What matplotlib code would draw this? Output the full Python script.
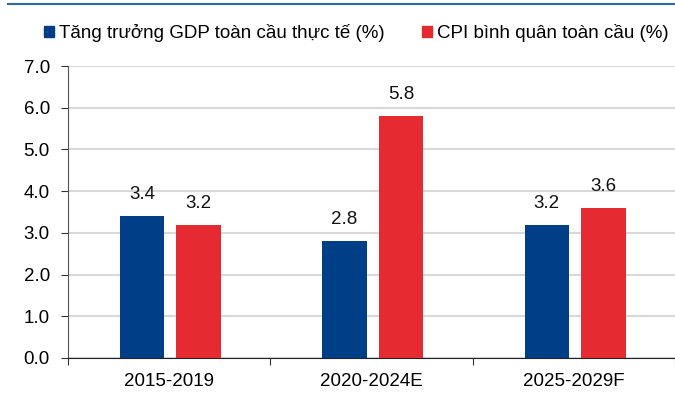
import numpy as np
import matplotlib
matplotlib.use('Agg')
import matplotlib.pyplot as plt
from matplotlib.lines import Line2D
from matplotlib.patches import Patch

plt.rcParams['font.family'] = ['Liberation Sans', 'DejaVu Sans']

# Data
categories = ['2015-2019', '2020-2024E', '2025-2029F']
gdp = [3.4, 2.8, 3.2]
cpi = [3.2, 5.8, 3.6]
gdp_labels = ['3.4', '2.8', '3.2']
cpi_labels = ['3.2', '5.8', '3.6']
series_names = ['Tăng trưởng GDP toàn cầu thực tế (%)', 'CPI bình quân toàn cầu (%)']

blue = '#003F87'
red = '#E62A32'
fs = 13.5

fig = plt.figure(figsize=(6.75, 4.07), dpi=100)
ax = fig.add_axes([0.1007, 0.1204, 0.9, 0.7174])

x = np.arange(len(categories))
w = 0.22
ax.bar(x - 0.135, gdp, w, color=blue, zorder=3)
ax.bar(x + 0.145, cpi, w, color=red, zorder=3)

for xi, v, s in zip(x - 0.135, gdp, gdp_labels):
    ax.annotate(s, (xi, v), xytext=(0, 12.2), textcoords='offset points',
                ha='center', va='baseline', fontsize=fs, color='#111111', zorder=4)
for xi, v, s in zip(x + 0.145, cpi, cpi_labels):
    ax.annotate(s, (xi, v), xytext=(0, 12.2), textcoords='offset points',
                ha='center', va='baseline', fontsize=fs, color='#111111', zorder=4)

ax.set_ylim(0, 7)
ax.set_xlim(-0.5, 2.5)
ax.set_yticks(np.arange(0, 7.5, 1))
ax.set_yticklabels(['{:.1f}'.format(v) for v in np.arange(0, 7.5, 1)], fontsize=fs)
ax.yaxis.grid(True, color='#d9d9d9', linewidth=1.5, zorder=0)

# category labels centered, ticks at boundaries
ax.set_xticks([-0.5, 0.5, 1.5, 2.5])
ax.set_xticklabels([])
ax.set_xticks(x, minor=True)
ax.set_xticklabels(categories, minor=True, fontsize=fs)
ax.tick_params(axis='x', which='minor', length=0, pad=11)
ax.tick_params(axis='x', which='major', length=5, color='#333333')
ax.tick_params(axis='y', length=5, color='#333333', pad=8)

for s in ['top', 'right']:
    ax.spines[s].set_visible(False)
ax.spines['left'].set_color('#555555')
ax.spines['bottom'].set_color('#222222')

# legend
handles = [Patch(color=blue), Patch(color=red)]
fig.legend(handles, series_names, loc='center left', bbox_to_anchor=(0.04, 0.918),
           ncol=2, frameon=False, fontsize=fs, handlelength=0.55, handleheight=0.55,
           handletextpad=0.25, columnspacing=2.0)

# blue rule at top
fig.add_artist(Line2D([0.012, 1.0], [0.99, 0.99], color='#2F67A8', linewidth=1.5))

plt.savefig('out.png', dpi=100)
